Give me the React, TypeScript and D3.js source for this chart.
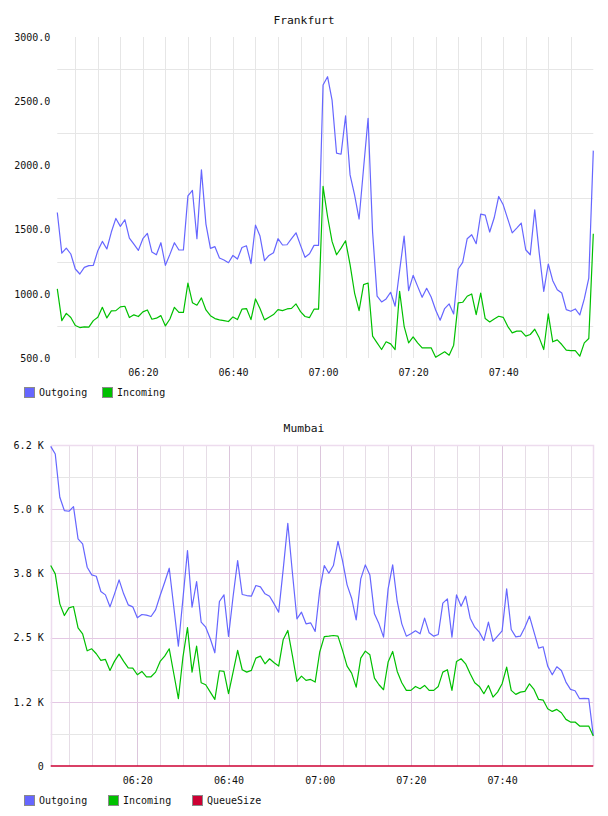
import React, { useRef, useEffect } from 'react';
import * as d3 from 'd3';

// one sample per minute, 06:01 .. 08:00
const startMinute = new Date(2024, 0, 1, 6, 1);
const sampleCount = 120;
const times = d3.range(sampleCount).map(i => d3.timeMinute.offset(startMinute, i));

const seriesNames = ['Outgoing', 'Incoming', 'QueueSize'];

const frankfurtOutgoing = [
    1633, 1317, 1356, 1310, 1193, 1154, 1206, 1219, 1222, 1336,
    1408, 1349, 1481, 1587, 1525, 1577, 1434, 1387, 1338, 1429,
    1470, 1325, 1304, 1398, 1222, 1307, 1398, 1341, 1341, 1763,
    1805, 1429, 1965, 1543, 1354, 1367, 1279, 1263, 1242, 1299,
    1271, 1361, 1374, 1235, 1535, 1450, 1258, 1299, 1320, 1429,
    1380, 1382, 1429, 1475, 1377, 1284, 1312, 1377, 1377, 2626,
    2691, 2509, 2095, 2087, 2385, 1926, 1771, 1582, 1980, 2367,
    1480, 981, 937, 960, 1012, 903, 1180, 1450, 1025, 1144,
    1058, 973, 1043, 975, 874, 794, 885, 921, 843, 1193,
    1245, 1429, 1460, 1390, 1621, 1613, 1481, 1592, 1758, 1693,
    1584, 1475, 1512, 1551, 1343, 1304, 1654, 1317, 1019, 1232,
    1102, 1032, 1006, 877, 864, 882, 835, 960, 1123, 2115,
];

const frankfurtIncoming = [
    1038, 791, 848, 815, 753, 737, 742, 740, 791, 817,
    895, 812, 867, 869, 898, 903, 815, 836, 823, 859,
    874, 802, 810, 830, 750, 804, 895, 856, 856, 1084,
    931, 911, 968, 874, 830, 807, 797, 791, 784, 820,
    799, 880, 885, 799, 960, 885, 797, 817, 838, 877,
    869, 882, 887, 921, 861, 823, 815, 880, 880, 1836,
    1602, 1408, 1304, 1356, 1413, 1227, 1006, 869, 1071, 1084,
    670, 618, 566, 626, 610, 566, 1019, 747, 618, 664,
    618, 579, 579, 579, 506, 527, 548, 522, 600, 929,
    934, 981, 999, 838, 1006, 807, 781, 804, 825, 817,
    747, 696, 709, 709, 670, 683, 724, 657, 566, 843,
    626, 641, 605, 561, 558, 558, 514, 618, 652, 1468,
];

const mumbaiOutgoing = [
    6224, 6075, 5232, 4972, 4960, 5050, 4421, 4324, 3870, 3721,
    3695, 3397, 3332, 3099, 3352, 3624, 3352, 3138, 3099, 2885,
    2950, 2937, 2911, 3041, 3319, 3579, 3851, 3092, 2334, 3254,
    4195, 3092, 3592, 2801, 2703, 2477, 2204, 3203, 3332, 2522,
    3300, 4000, 3339, 3319, 3306, 3514, 3488, 3352, 3306, 3157,
    2995, 3838, 4726, 3773, 2866, 2995, 2768, 2788, 2619, 3420,
    3903, 3754, 3903, 4376, 4000, 3527, 3267, 2846, 3643, 3916,
    3721, 2963, 2768, 2509, 3449, 3916, 3203, 2768, 2528, 2574,
    2632, 2574, 2878, 2593, 2528, 2561, 3170, 3254, 2509, 3332,
    3112, 3306, 2878, 2703, 2606, 2444, 2801, 2425, 2528, 2632,
    3449, 2658, 2515, 2528, 2703, 2917, 2606, 2295, 2321, 1945,
    1776, 1932, 1861, 1634, 1491, 1465, 1310, 1316, 1310, 596,
];

const mumbaiIncoming = [
    3903, 3741, 3157, 2930, 3079, 3105, 2690, 2574, 2243, 2282,
    2185, 2055, 2075, 1861, 2042, 2178, 2036, 1912, 1906, 1776,
    1841, 1737, 1737, 1828, 2036, 2139, 2282, 1796, 1310, 2120,
    2697, 1828, 2334, 1621, 1582, 1439, 1297, 1854, 1841, 1407,
    1828, 2250, 1874, 1828, 1861, 2100, 2139, 1990, 2088, 2010,
    1945, 2464, 2639, 2152, 1647, 1750, 1666, 1686, 1634, 2220,
    2520, 2528, 2541, 2528, 2250, 1945, 1809, 1536, 2100, 2237,
    2165, 1712, 1582, 1485, 2023, 2230, 1841, 1621, 1472, 1472,
    1549, 1504, 1569, 1472, 1472, 1549, 1828, 1874, 1472, 2036,
    2088, 1990, 1796, 1621, 1549, 1407, 1569, 1342, 1439, 1601,
    1925, 1472, 1394, 1439, 1452, 1601, 1491, 1297, 1284, 1115,
    1063, 1102, 1037, 908, 856, 856, 778, 778, 778, 583,
];

const mumbaiQueueSize = [
    0, 0, 0, 0, 0, 0, 0, 0, 0, 0, 0, 0, 0, 0, 0, 0, 0, 0, 0, 0,
    0, 0, 0, 0, 0, 0, 0, 0, 0, 0, 0, 0, 0, 0, 0, 0, 0, 0, 0, 0,
    0, 0, 0, 0, 0, 0, 0, 0, 0, 0, 0, 0, 0, 0, 0, 0, 0, 0, 0, 0,
    0, 0, 0, 0, 0, 0, 0, 0, 0, 0, 0, 0, 0, 0, 0, 0, 0, 0, 0, 0,
    0, 0, 0, 0, 0, 0, 0, 0, 0, 0, 0, 0, 0, 0, 0, 0, 0, 0, 0, 0,
    0, 0, 0, 0, 0, 0, 0, 0, 0, 0, 0, 0, 0, 0, 0, 0, 0, 0, 0, 0,
];

const frankfurtTicks = [500, 1000, 1500, 2000, 2500, 3000];
const frankfurtTickLabels = ['500.0', '1000.0', '1500.0', '2000.0', '2500.0', '3000.0'];
const frankfurtGrid = [750, 1250, 1750, 2250, 2750];

const mumbaiTicks = [0, 1250, 2500, 3750, 5000, 6250];
const mumbaiTickLabels = ['0', '1.2 K', '2.5 K', '3.8 K', '5.0 K', '6.2 K'];
const mumbaiMinorGrid = [625, 1875, 3125, 4375, 5625];

const colors = ['#6666ff', '#00c000', '#cc0033'];
const FONT = '"DejaVu Sans Mono", monospace';
const W = 608;
const H = 816;

interface Panel {
    title: string;
    top: number;
    left: number;
    right: number;
    yDomain: [number, number];
    ticks: number[];
    tickLabels: string[];
    series: number[][];
    legendX: number[];
    mumbaiStyle: boolean;
}

const App: React.FC = () => {
    const ref = useRef<SVGSVGElement>(null);

    useEffect(() => {
        if (ref.current) drawChart();
    }, []);

    const drawPanel = (svg: d3.Selection<SVGSVGElement, unknown, null, undefined>, p: Panel) => {
        const bottom = p.top + 321;
        const lastTime = times[times.length - 1];
        const x = d3.scaleTime().domain([times[0], lastTime]).range([p.left, p.right]);
        const y = d3.scaleLinear().domain(p.yDomain).range([bottom, p.top]);
        const g = svg.append('g');

        g.append('text')
            .attr('x', W / 2)
            .attr('y', p.top - 16.5)
            .attr('text-anchor', 'middle')
            .attr('dy', '0.35em')
            .style('font-family', FONT)
            .style('font-size', '11.3px')
            .attr('fill', '#111')
            .text(p.title);

        const fiveMin = x.ticks(d3.timeMinute.every(5)!).filter(t => +t < +lastTime);
        const isMajor = (t: Date) => t.getMinutes() % 20 === 0;

        // vertical grid
        g.selectAll('.vgrid')
            .data(fiveMin)
            .enter().append('line')
            .attr('x1', d => Math.round(x(d)) + 0.5)
            .attr('x2', d => Math.round(x(d)) + 0.5)
            .attr('y1', p.top)
            .attr('y2', bottom)
            .attr('stroke', d => p.mumbaiStyle ? (isMajor(d) ? '#dcc6dc' : '#e6dde6') : '#e6e6e6');

        // horizontal grid
        const hMinor = p.mumbaiStyle ? mumbaiMinorGrid : frankfurtGrid;
        g.selectAll('.hgrid')
            .data(hMinor)
            .enter().append('line')
            .attr('x1', p.left)
            .attr('x2', p.right)
            .attr('y1', d => Math.round(y(d)) + 0.5)
            .attr('y2', d => Math.round(y(d)) + 0.5)
            .attr('stroke', '#e6e6e6');

        if (p.mumbaiStyle) {
            g.selectAll('.hmajor')
                .data(p.ticks.slice(1, -1))
                .enter().append('line')
                .attr('x1', p.left)
                .attr('x2', p.right)
                .attr('y1', d => Math.round(y(d)) + 0.5)
                .attr('y2', d => Math.round(y(d)) + 0.5)
                .attr('stroke', '#e4c8e4');
            // frame
            g.append('path')
                .attr('d', `M${Math.round(p.left) + 0.5},${bottom}V${p.top + 0.5}H${Math.round(p.right) + 0.5}V${bottom}`)
                .attr('fill', 'none')
                .attr('stroke', '#eddcee')
                .attr('stroke-width', 1.5);
        }

        // y axis
        const ya = g.append('g')
            .attr('transform', `translate(${p.left},0)`)
            .call(d3.axisLeft(y).tickValues(p.ticks).tickSize(0).tickPadding(7)
                .tickFormat((_d, i) => p.tickLabels[i]));
        ya.select('.domain').remove();
        ya.selectAll('text').style('font-family', FONT).style('font-size', '10px').attr('fill', '#111');

        // x axis (labels every 20 minutes, none at the right edge)
        const labelTimes = x.ticks(d3.timeMinute.every(20)!).filter(t => +t < +lastTime);
        const xa = g.append('g')
            .attr('transform', `translate(0,${bottom})`)
            .call(d3.axisBottom(x).tickValues(labelTimes).tickSize(0).tickPadding(11)
                .tickFormat(d => d3.timeFormat('%H:%M')(d as Date)));
        xa.select('.domain').remove();
        xa.selectAll('text').style('font-family', FONT).style('font-size', '10px').attr('fill', '#111');

        // lines
        const line = d3.line<number>()
            .x((_d, i) => x(times[i]))
            .y(d => y(d));
        p.series.forEach((s, si) => {
            g.append('path')
                .datum(s)
                .attr('d', line)
                .attr('fill', 'none')
                .attr('stroke', colors[si])
                .attr('stroke-width', si === 2 ? 1.4 : 1.2)
                .attr('stroke-linejoin', 'round');
        });

        // legend
        const lg = g.selectAll('.legend')
            .data(p.series.map((_s, i) => i))
            .enter().append('g')
            .attr('transform', i => `translate(${p.legendX[i]},${bottom + 29})`);
        lg.append('rect')
            .attr('x', 0.5).attr('y', 0.5)
            .attr('width', 10).attr('height', 10)
            .attr('fill', i => colors[i])
            .attr('stroke', '#8a8a8a');
        lg.append('text')
            .attr('x', 15)
            .attr('y', 5.5)
            .attr('dy', '0.35em')
            .style('font-family', FONT)
            .style('font-size', '10px')
            .attr('fill', '#111')
            .text(i => seriesNames[i]);
    };

    const drawChart = () => {
        const svg = d3.select(ref.current!);
        svg.selectAll('*').remove();
        svg.append('rect').attr('width', W).attr('height', H).attr('fill', '#fff');

        drawPanel(svg, {
            title: 'Frankfurt',
            top: 37,
            left: 57.3,
            right: 593.3,
            yDomain: [500, 3000],
            ticks: frankfurtTicks,
            tickLabels: frankfurtTickLabels,
            series: [frankfurtOutgoing, frankfurtIncoming],
            legendX: [24, 102],
            mumbaiStyle: false,
        });

        drawPanel(svg, {
            title: 'Mumbai',
            top: 445,
            left: 50.7,
            right: 593.3,
            yDomain: [0, 6250],
            ticks: mumbaiTicks,
            tickLabels: mumbaiTickLabels,
            series: [mumbaiOutgoing, mumbaiIncoming, mumbaiQueueSize],
            legendX: [24, 108, 192],
            mumbaiStyle: true,
        });
    };

    return (
        <svg ref={ref} width={W} height={H}
            style={{ position: 'absolute', left: 0, top: 0, display: 'block' }} />
    );
};

export default App;
